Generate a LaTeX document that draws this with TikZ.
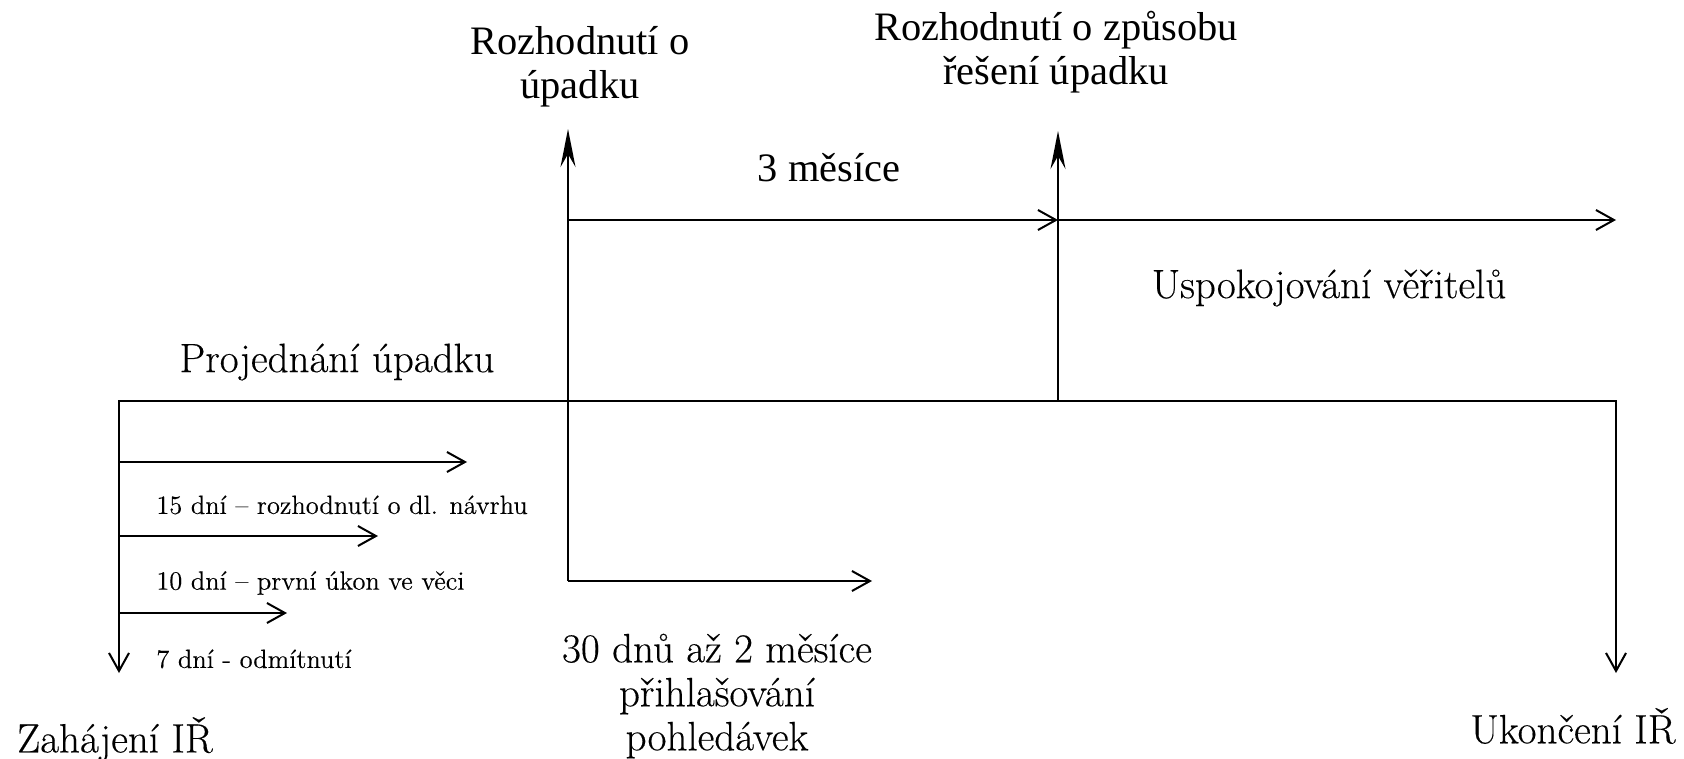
\documentclass[tikz,border=0pt]{standalone}
\usepackage{fontspec}
\usetikzlibrary{arrows.meta}
\newfontfamily\timesfont{Liberation Serif}
\newfontfamily\labelfont{Latin Modern Roman}[FakeBold=0.3]

\begin{document}
\begin{tikzpicture}[x=0.5pt,y=0.5pt]
        \tikzstyle{every node}+=[inner sep=0pt]
        \tikzstyle{axis}=[black, line width=1pt]
        \tikzstyle{period}=[axis, -{Straight Barb[length=9pt,width=10pt]}]
        \tikzstyle{twoway}=[axis, {Straight Barb[length=9pt,width=10pt]}-{Straight Barb[length=9pt,width=10pt]}]
        \tikzstyle{event}=[axis, -{Stealth[length=19pt,width=7.5pt,inset=6.5pt]}]
        \tikzstyle{big}=[font=\labelfont\fontsize{20.5}{22}\selectfont, align=center]
        \tikzstyle{small}=[font=\labelfont\fontsize{13.2}{15}\selectfont, anchor=west]
        \tikzstyle{headline}=[font=\timesfont\fontsize{20.2}{22}\selectfont, align=center]
        \useasboundingbox (0,0) rectangle (1684,-759);
        \coordinate (zl) at (119,-673);
        \coordinate (zh) at (119,-401);
        \coordinate (uh) at (1616,-401);
        \coordinate (ul) at (1616,-673);
        \draw [twoway] (zl) -- (zh) -- (uh) -- (ul);
        \draw (337,-362) node [big] (proj) {Projednání úpadku};
        \draw (115,-739) node [big] (zahajeni) {Zahájení IŘ};
        \draw (1573,-726) node [big] (ukonceni) {Ukončení IŘ};
        \coordinate (d15) at (119,-462);
        \coordinate (d15e) at (467,-462);
        \draw [period] (d15) -- (d15e);
        \draw (156,-505) node [small] (d15t) {15 dní – rozhodnutí o dl. návrhu};
        \coordinate (d10) at (119,-536);
        \coordinate (d10e) at (378,-536);
        \draw [period] (d10) -- (d10e);
        \draw (156,-583) node [small] (d10t) {10 dní – první úkon ve věci};
        \coordinate (d7) at (119,-613);
        \coordinate (d7e) at (287,-613);
        \draw [period] (d7) -- (d7e);
        \draw (156,-659) node [small] (d7t) {7 dní - odmítnutí};
        \coordinate (rl) at (568,-581);
        \coordinate (rt) at (568,-129);
        \draw [event] (rl) -- (rt);
        \draw (580,-67) node [headline] (rozh) {Rozhodnutí o\\úpadku};
        \coordinate (pe) at (872,-581);
        \draw [period] (rl) -- (pe);
        \draw (717,-696) node [big] (prihl) {30 dnů až 2 měsíce\\přihlašování\\pohledávek};
        \coordinate (m0) at (568,-220);
        \coordinate (m1) at (1058,-220);
        \coordinate (m2) at (1616,-220);
        \draw [period] (m0) -- (m1);
        \draw [period] (m1) -- (m2);
        \draw (829,-168) node [headline] (mes) {3 měsíce};
        \coordinate (sl) at (1058,-401);
        \coordinate (st) at (1058,-131);
        \draw [event] (sl) -- (st);
        \draw (1056,-52) node [headline] (zpusob) {Rozhodnutí o způsobu\\řešení úpadku};
        \draw (1329,-288) node [big] (usp) {Uspokojování věřitelů};
\end{tikzpicture}
\end{document}
